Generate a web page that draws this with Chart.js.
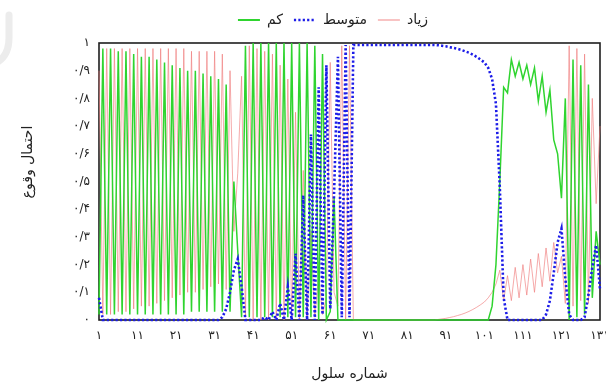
<!DOCTYPE html>
<html>
<head>
<meta charset="utf-8">
<script src="https://cdn.jsdelivr.net/npm/chart.js@4.4.1/dist/chart.umd.min.js"></script>
<style>
  html, body { margin: 0; padding: 0; background: #fff; overflow: hidden; }
  #wrap { width: 606px; height: 385px; }
</style>
</head>
<body>
<div id="wrap"><canvas id="chart" width="606" height="385"></canvas></div>
<script>
// Probability of occurrence per cell (cells 1..131), one array per class.
const lowProb = [
  0.02,0.98,0.02,0.98,0.02,0.97,0.02,0.97,0.02,0.96,
  0.02,0.95,0.02,0.95,0.02,0.94,0.02,0.93,0.02,0.92,
  0.02,0.91,0.02,0.90,0.03,0.90,0.03,0.89,0.03,0.88,
  0.03,0.87,0.03,0.85,0.03,0.50,0.25,0.01,0.99,0.01,
  1,0.01,1,0.01,1,0.01,1,0.01,1,0.01,
  1,0.01,1,0.01,1,0.01,0.99,0,0.96,0,
  0.03,0.44,0,0,0,0,0,0,0,0,
  0,0,0,0,0,0,0,0,0,0,
  0,0,0,0,0,0,0,0,0,0,
  0,0,0,0,0,0,0,0,0,0,
  0,0,0.05,0.2,0.5,0.84,0.82,0.94,0.88,0.93,
  0.87,0.92,0.85,0.91,0.79,0.88,0.75,0.83,0.65,0.6,
  0.44,0.8,0,0.94,0.01,0.92,0.02,0.85,0.08,0.32,
  0.2
];
const midProb = [
  0.08,0,0,0,0,0,0,0,0,0,
  0,0,0,0,0,0,0,0,0,0,
  0,0,0,0,0,0,0,0,0,0,
  0,0,0.01,0.04,0.1,0.18,0.22,0.12,0,0,
  0,0,0,0.01,0,0.03,0,0.06,0,0.12,
  0,0.24,0,0.45,0,0.67,0,0.84,0.02,0.92,
  0.04,0.46,0.95,0.01,0.993,0.01,0.993,0.993,0.993,0.993,
  0.993,0.993,0.993,0.993,0.993,0.993,0.993,0.993,0.993,0.993,
  0.993,0.993,0.993,0.993,0.993,0.993,0.993,0.993,0.992,0.99,
  0.988,0.985,0.982,0.979,0.975,0.97,0.965,0.958,0.95,0.94,
  0.93,0.91,0.87,0.78,0.48,0.08,0,0,0,0,
  0,0,0,0,0,0,0.02,0.07,0.17,0.28,
  0.33,0.15,0.02,0,0,0,0.01,0.09,0.19,0.27,
  0.11
];
const highProb = [
  0.9,0.02,0.98,0.02,0.98,0.03,0.98,0.03,0.98,0.04,
  0.98,0.05,0.98,0.05,0.98,0.06,0.98,0.07,0.98,0.08,
  0.98,0.09,0.98,0.1,0.97,0.1,0.97,0.11,0.97,0.12,
  0.97,0.13,0.96,0.11,0.9,0.32,0.53,0.88,0.01,0.99,
  0,0.98,0,0.97,0,0.96,0,0.92,0,0.87,
  0,0.75,0,0.54,0,0.32,0.01,0.16,0.02,0.08,
  0.93,0.1,0.05,0.99,0,0.99,0,0,0,0,
  0,0,0,0,0,0,0,0,0,0,
  0,0,0,0,0,0,0,0,0.002,0.004,
  0.006,0.009,0.012,0.016,0.02,0.025,0.031,0.038,0.046,0.055,
  0.065,0.08,0.1,0.13,0.18,0.07,0.16,0.07,0.19,0.08,
  0.2,0.09,0.22,0.1,0.24,0.12,0.26,0.14,0.28,0.17,
  0.23,0.06,0.99,0.05,0.98,0.07,0.96,0.06,0.8,0.42,
  0.7
];

// Series names and axis labels
const seriesNames = ['کم', 'متوسط', 'زیاد'];
const xTickValues = [1, 11, 21, 31, 41, 51, 61, 71, 81, 91, 101, 111, 121, 131];
const xTickLabels = ['۱','۱۱','۲۱','۳۱','۴۱','۵۱','۶۱','۷۱','۸۱','۹۱','۱۰۱','۱۱۱','۱۲۱','۱۳۱'];
const yTickValues = [0, 0.1, 0.2, 0.3, 0.4, 0.5, 0.6, 0.7, 0.8, 0.9, 1];
const yTickLabels = ['۰','۰/۱','۰/۲','۰/۳','۰/۴','۰/۵','۰/۶','۰/۷','۰/۸','۰/۹','۱'];
const xTitle = 'شماره سلول';
const yTitle = 'احتمال وقوع';

const FONT = "'DejaVu Sans', sans-serif";
const cellNumbers = lowProb.map((_, i) => i + 1);
const toPoints = arr => arr.map((v, i) => ({ x: cellNumbers[i], y: v }));

// Plot frame, faint corner mark and rotated y title
const decorations = {
  id: 'decorations',
  beforeDraw(chart) {
    const ctx = chart.ctx;
    ctx.save();
    ctx.strokeStyle = '#ececec';
    ctx.lineWidth = 7;
    ctx.lineCap = 'round';
    ctx.beginPath();
    ctx.moveTo(9, 15);
    ctx.lineTo(9, 38);
    ctx.quadraticCurveTo(9, 56, -4, 63);
    ctx.stroke();
    ctx.restore();
  },
  beforeDatasetsDraw(chart) {
    const { left, top, right, bottom } = chart.chartArea;
    const ctx = chart.ctx;
    ctx.save();
    ctx.strokeStyle = '#1e1e1e';
    ctx.lineWidth = 1.6;
    ctx.strokeRect(left, top, right - left, bottom - top);
    ctx.restore();
  },
  afterDraw(chart) {
    const ctx = chart.ctx;
    ctx.save();
    ctx.translate(28, 162);
    ctx.rotate(-Math.PI / 2);
    ctx.font = '14px ' + FONT;
    ctx.fillStyle = '#222';
    ctx.textAlign = 'center';
    ctx.textBaseline = 'middle';
    ctx.fillText(yTitle, 0, 0);
    ctx.restore();
  },
  afterLayout(chart) {
    // nudge the legend row right and up
    const lg = chart.legend;
    lg.left += 33;
    lg.right += 33;
    lg.top -= 6;
    lg.bottom -= 6;
  }
};

// Legend samples take the dataset's own line width and dash pattern
const legendLabels = chart => {
  const items = Chart.defaults.plugins.legend.labels.generateLabels(chart);
  items.forEach(item => {
    const ds = chart.data.datasets[item.datasetIndex];
    item.lineDash = ds.borderDash || [];
    item.lineWidth = ds.legendWidth;
    item.strokeStyle = ds.borderColor;
  });
  return items;
};

new Chart(document.getElementById('chart'), {
  type: 'line',
  data: {
    datasets: [
      {
        label: seriesNames[0],
        data: toPoints(lowProb),
        borderColor: '#2fd42f',
        borderWidth: 1.5,
        legendWidth: 2,
        order: 1
      },
      {
        label: seriesNames[1],
        data: toPoints(midProb),
        borderColor: '#1c1ce8',
        borderWidth: 2.6,
        borderDash: [2.2, 2.2],
        legendWidth: 2.4,
        order: 0
      },
      {
        label: seriesNames[2],
        data: toPoints(highProb),
        borderColor: 'rgba(240, 125, 125, 0.65)',
        borderWidth: 1,
        legendWidth: 1.4,
        order: 2
      }
    ]
  },
  options: {
    responsive: false,
    animation: false,
    elements: {
      point: { radius: 0 },
      line: { tension: 0, fill: false }
    },
    datasets: { line: { clip: 4 } },
    layout: { padding: { top: 2, right: 6, left: 0, bottom: 0 } },
    plugins: {
      tooltip: { enabled: false },
      legend: {
        position: 'top',
        labels: {
          usePointStyle: true,
          pointStyle: 'line',
          pointStyleWidth: 22,
          boxHeight: 14,
          padding: 11,
          color: '#222',
          font: { family: FONT, size: 14 },
          generateLabels: legendLabels,
          sort: (a, b) => a.datasetIndex - b.datasetIndex
        }
      }
    },
    scales: {
      x: {
        type: 'linear',
        min: 1,
        max: 131,
        grid: { display: false, drawTicks: false },
        border: { display: false },
        afterBuildTicks: scale => { scale.ticks = xTickValues.map(v => ({ value: v })); },
        afterFit: scale => { scale.height = 65; scale.paddingLeft = 0; scale.paddingRight = 0; },
        ticks: {
          autoSkip: false,
          maxRotation: 0,
          padding: 9,
          color: '#222',
          font: { family: FONT, size: 12 },
          callback: v => xTickLabels[xTickValues.indexOf(v)]
        },
        title: {
          display: true,
          text: xTitle,
          color: '#222',
          font: { family: FONT, size: 14 },
          padding: { top: 4, bottom: 2 }
        }
      },
      y: {
        min: 0,
        max: 1,
        grid: { display: false, drawTicks: false },
        border: { display: false },
        afterBuildTicks: scale => { scale.ticks = yTickValues.map(v => ({ value: v })); },
        afterFit: scale => { scale.width = 99; scale.paddingTop = 43; scale.paddingBottom = 0; },
        ticks: {
          padding: 9,
          color: '#222',
          font: { family: FONT, size: 12 },
          callback: v => yTickLabels[yTickValues.indexOf(v)]
        }
      }
    }
  },
  plugins: [decorations]
});
</script>
</body>
</html>
